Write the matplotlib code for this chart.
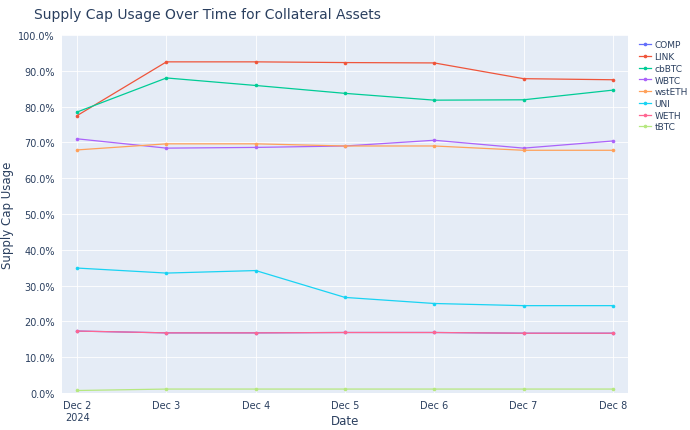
import matplotlib.pyplot as plt
from matplotlib.ticker import FuncFormatter

dates = ['Dec 2\n2024', 'Dec 3', 'Dec 4', 'Dec 5', 'Dec 6', 'Dec 7', 'Dec 8']
comp = [17.3, 16.8, 16.8, 16.9, 16.9, 16.7, 16.7]
link = [77.5, 92.5, 92.5, 92.3, 92.2, 87.8, 87.5]
cbbtc = [78.5, 88.0, 85.9, 83.7, 81.8, 81.9, 84.6]
wbtc = [71.0, 68.4, 68.6, 69.0, 70.6, 68.4, 70.4]
wsteth = [67.9, 69.6, 69.6, 69.0, 69.0, 67.8, 67.8]
uni = [34.9, 33.5, 34.2, 26.7, 25.0, 24.4, 24.4]
weth = [17.3, 16.8, 16.8, 16.9, 16.9, 16.7, 16.7]
tbtc = [0.7, 1.1, 1.1, 1.1, 1.1, 1.1, 1.1]

series = [('COMP', comp, '#636efa'), ('LINK', link, '#EF553B'), ('cbBTC', cbbtc, '#00cc96'),
          ('WBTC', wbtc, '#ab63fa'), ('wstETH', wsteth, '#FFA15A'), ('UNI', uni, '#19d3f3'),
          ('WETH', weth, '#FF6692'), ('tBTC', tbtc, '#B6E880')]

fig = plt.figure(figsize=(6.9, 4.31), dpi=100)
ax = fig.add_axes([62/690, 37/431, 566/690, 358/431])
ax.set_facecolor('#E5ECF6')
x = range(len(dates))
for name, vals, c in series:
    ax.plot(x, vals, color=c, lw=0.9, marker='o', ms=1.6, label=name)

ax.set_xlim(-0.17, 6.17)
ax.set_ylim(0, 100)
ax.set_yticks(range(0, 101, 10))
ax.yaxis.set_major_formatter(FuncFormatter(lambda v, p: f'{v:.1f}%'))
ax.set_xticks(list(x))
ax.set_xticklabels(dates)
ax.grid(color='white', lw=0.6)
ax.set_axisbelow(True)
for s in ax.spines.values():
    s.set_visible(False)
ax.tick_params(length=0, labelsize=7, colors='#2a3f5f', pad=5)
fig.text(345/690, 1 - 422/431, 'Date', fontsize=8.5, color='#2a3f5f', ha='center', va='center')
fig.text(8/690, 1 - 215/431, 'Supply Cap Usage', fontsize=8.5, color='#2a3f5f',
         ha='center', va='center', rotation=90)
fig.text(34/690, 1 - 15/431, 'Supply Cap Usage Over Time for Collateral Assets',
         fontsize=10, color='#2a3f5f', va='center')
leg = ax.legend(loc='upper left', bbox_to_anchor=(1.01, 1.0), frameon=False,
                fontsize=6.5, labelcolor='#2a3f5f', handlelength=1.3, handletextpad=0.4,
                labelspacing=0.3, borderaxespad=0.2)
fig.savefig('out.png')
